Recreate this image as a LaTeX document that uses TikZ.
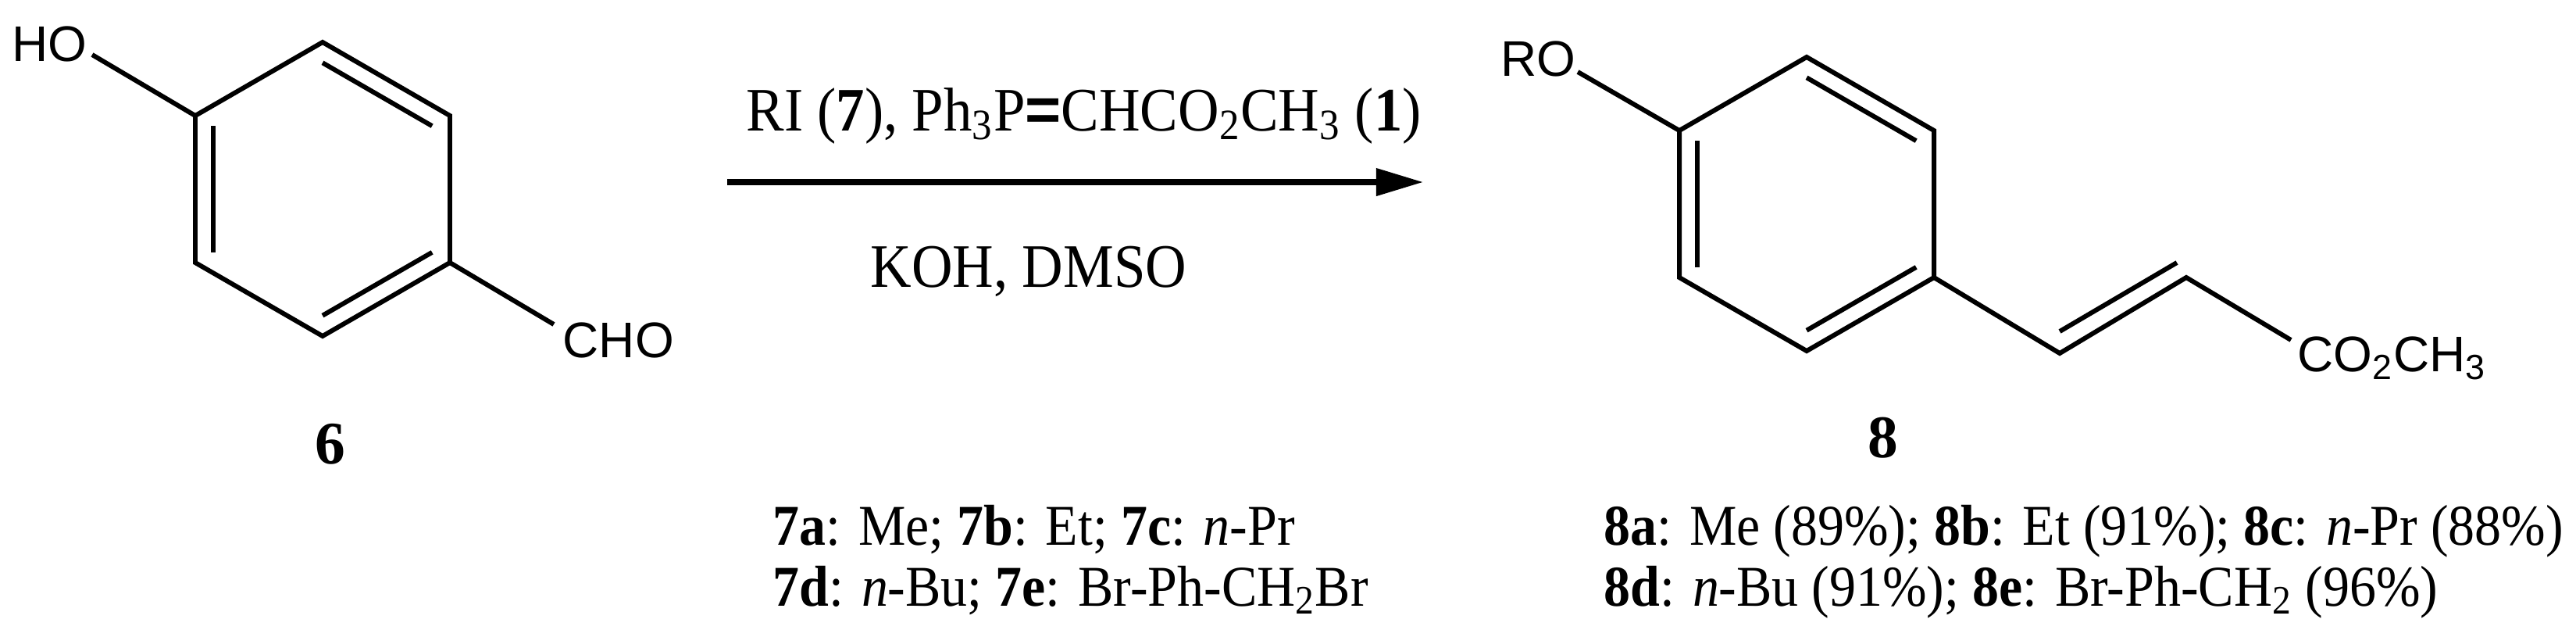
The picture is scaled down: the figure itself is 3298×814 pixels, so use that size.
\documentclass[tikz,border=0pt]{standalone}
\usepackage{fontspec}
\setmainfont{Liberation Serif}[FakeStretch=0.92]
\newfontfamily\atomfont{Liberation Sans}
\newfontfamily\labfont{Liberation Serif}
\usetikzlibrary{arrows.meta,calc}
\tikzset{
  bond/.style={line width=1.7pt,line cap=butt,line join=miter},
  atomlbl/.style={inner sep=0pt,font=\atomfont\fontsize{18.2}{20}\selectfont},
  rtext/.style={inner sep=0pt,font=\fontsize{21}{25}\selectfont},
  ctext/.style={inner sep=0pt,font=\fontsize{22.5}{26}\selectfont},
  cpdlbl/.style={inner sep=0pt,font=\labfont\bfseries\fontsize{22}{26}\selectfont},
  rxnarrow/.style={line width=2pt,-{Triangle[length=6mm,width=3.4mm]}}
}
\begin{document}
\begin{tikzpicture}[x=0.01cm,y=-0.01cm]
\useasboundingbox (0,0) rectangle (3298,814);
% ---- compound 6
\coordinate (c6) at (413,242);
\coordinate (a1) at (413,54);
\coordinate (a2) at (576,148);
\coordinate (a3) at (576,336);
\coordinate (a4) at (413,430);
\coordinate (a5) at (250,336);
\coordinate (a6) at (250,148);
\draw[bond] (a1)--(a2)--(a3)--(a4)--(a5)--(a6)--cycle;
\draw[bond] ($(c6)!0.86!(a6)$)--($(c6)!0.86!(a5)$);
\draw[bond] ($(c6)!0.86!(a1)$)--($(c6)!0.86!(a2)$);
\draw[bond] ($(c6)!0.86!(a3)$)--($(c6)!0.86!(a4)$);
\node[atomlbl,anchor=base east] (ho) at (112,78) {HO};
\coordinate (hoend) at (118,70);
\draw[bond] (hoend)--(a6);
\node[atomlbl,anchor=base west] (cho) at (720,457) {CHO};
\coordinate (choend) at (709,415);
\draw[bond] (a3)--(choend);
\node[cpdlbl] (l6) at (423,568) {6};
% ---- arrow and conditions
\coordinate (arrs) at (931,233);
\coordinate (arre) at (1822,233);
\draw[rxnarrow] (arrs)--(arre);
\node[ctext,anchor=base west] (reag) at (955,167) {RI (\textbf{7}), Ph\textsubscript{3}P{\atomfont\bfseries =}CHCO\textsubscript{2}CH\textsubscript{3} (\textbf{1})};
\node[ctext,anchor=base west] (cond) at (1114,367) {KOH, DMSO};
\node[rtext,anchor=base west] (r1) at (989,697) {\textbf{7a}: Me; \textbf{7b}: Et; \textbf{7c}: \textit{n}-Pr};
\node[rtext,anchor=base west] (r2) at (989,775) {\textbf{7d}: \textit{n}-Bu; \textbf{7e}: Br-Ph-CH\textsubscript{2}Br};
% ---- compound 8
\coordinate (c8) at (2313,261);
\coordinate (b1) at (2313,73);
\coordinate (b2) at (2476,167);
\coordinate (b3) at (2476,355);
\coordinate (b4) at (2313,449);
\coordinate (b5) at (2150,355);
\coordinate (b6) at (2150,167);
\draw[bond] (b1)--(b2)--(b3)--(b4)--(b5)--(b6)--cycle;
\draw[bond] ($(c8)!0.86!(b6)$)--($(c8)!0.86!(b5)$);
\draw[bond] ($(c8)!0.86!(b1)$)--($(c8)!0.86!(b2)$);
\draw[bond] ($(c8)!0.86!(b3)$)--($(c8)!0.86!(b4)$);
\node[atomlbl,anchor=base east] (ro) at (2018,97) {RO};
\coordinate (roend) at (2020,92);
\draw[bond] (roend)--(b6);
\coordinate (v1) at (2637,452);
\coordinate (v2) at (2799,355);
\coordinate (v3) at (2933,435);
\draw[bond] (b3)--(v1)--(v2)--(v3);
\coordinate (d1) at (2637,424);
\coordinate (d2) at (2787,336);
\draw[bond] (d1)--(d2);
\node[atomlbl,anchor=base west] (est) at (2941,475) {CO\textsubscript{2}CH\textsubscript{3}};
\node[cpdlbl] (l8) at (2411,560) {8};
\node[rtext,anchor=base west] (p1) at (2053,697) {\textbf{8a}: Me (89\%); \textbf{8b}: Et (91\%); \textbf{8c}: \textit{n}-Pr (88\%)};
\node[rtext,anchor=base west] (p2) at (2053,775) {\textbf{8d}: \textit{n}-Bu (91\%); \textbf{8e}: Br-Ph-CH\textsubscript{2} (96\%)};
\end{tikzpicture}
\end{document}
